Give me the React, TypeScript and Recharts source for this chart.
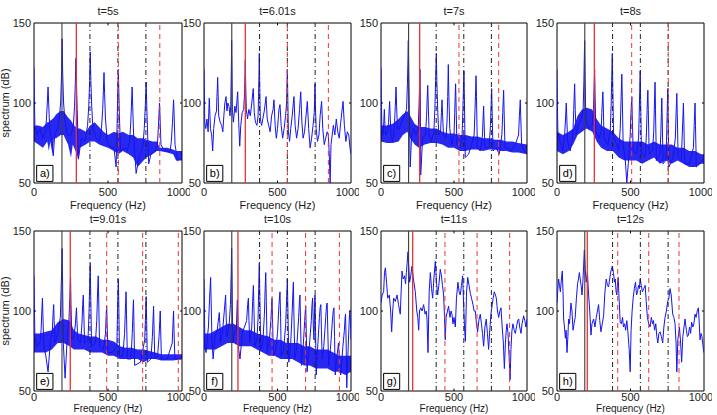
import React from 'react';
import { Area, ComposedChart, Line, ReferenceArea, ReferenceLine, XAxis, YAxis } from 'recharts';

type Pt = [number, number];
type Band = [number, number, number];

const FREQ_TICKS = [0, 500, 1000];
const DB_TICKS = [50, 100, 150];
const TITLES = ['t=5s', 't=6.01s', 't=7s', 't=8s', 't=9.01s', 't=10s', 't=11s', 't=12s'];
const TAGS = ['a)', 'b)', 'c)', 'd)', 'e)', 'f)', 'g)', 'h)'];

// shaft harmonics (black): fundamental solid, the rest dash-dot
const SHAFT_F0 = 189;
const SHAFT_HARMONICS = [378, 567, 756];
// second tone (red): fundamental solid, harmonics dashed
const TONE_F0 = [286, 281, 265, 254, 245, 231, 217, 206];
const TONE_HARMONICS = [
  [570, 850],
  [567, 846],
  [534, 806],
  [508, 757],
  [491, 734, 975],
  [463, 691, 921],
  [438, 658, 881],
  [413, 624, 830],
];

// spectra, [Hz, dB]
const SPEC_A: Pt[] = [
  [0, 122], [3, 100], [6, 86], [20, 80], [40, 84], [60, 78], [78, 82], [84, 90], [90, 100], [95, 110],
  [100, 98], [106, 84], [120, 76], [130, 67], [140, 80], [160, 84], [172, 92], [180, 100], [186, 118],
  [190, 140], [194, 118], [200, 100], [208, 90], [225, 80], [250, 80], [266, 86], [274, 98], [279, 112],
  [283, 128], [287, 112], [292, 96], [300, 65], [320, 78], [345, 76], [362, 86], [370, 98], [376, 114],
  [380, 132], [384, 114], [390, 98], [398, 84], [420, 78], [440, 76], [456, 84], [464, 96], [469, 108],
  [473, 119], [477, 106], [483, 90], [495, 76], [520, 72], [540, 72], [555, 60], [560, 80], [564, 98],
  [567, 110], [570, 121], [573, 108], [577, 92], [585, 70], [610, 72], [630, 70], [646, 76], [654, 88],
  [659, 100], [663, 110], [667, 98], [673, 80], [690, 56], [710, 66], [735, 72], [745, 84], [752, 98],
  [758, 113], [762, 98], [768, 80], [775, 62], [790, 68], [820, 70], [834, 74], [841, 86], [845, 94],
  [848, 100], [852, 90], [858, 74], [880, 70], [920, 70], [928, 76], [936, 88], [940, 96], [943, 102],
  [947, 92], [953, 74], [970, 64], [1000, 66],
];
const BAND_A: Band[] = [
  [0, 76, 86], [30, 74, 86], [60, 72, 85], [90, 76, 88], [100, 70, 88], [110, 76, 89], [125, 68, 90],
  [135, 78, 91], [150, 78, 93], [180, 80, 95], [200, 80, 95], [230, 74, 91], [250, 66, 89], [262, 74, 87],
  [290, 68, 84], [300, 64, 84], [310, 72, 84], [350, 74, 82], [380, 76, 86], [410, 76, 88], [440, 74, 85],
  [470, 73, 82], [500, 72, 80], [540, 70, 82], [570, 68, 81], [600, 70, 82], [640, 68, 80], [670, 66, 80],
  [700, 60, 78], [740, 64, 78], [760, 66, 77], [800, 68, 76], [830, 70, 76], [850, 70, 72], [900, 69, 72],
  [940, 68, 71], [960, 64, 70], [1000, 64, 70],
];

const SPEC_B: Pt[] = [
  [0, 121], [5, 88], [12, 84], [20, 90], [28, 82], [36, 103], [44, 84], [52, 80], [59, 70], [66, 84],
  [75, 92], [85, 95], [88, 104], [91, 110], [93, 116], [96, 106], [100, 92], [110, 88], [120, 86],
  [128, 82], [135, 92], [142, 100], [150, 104], [156, 95], [162, 100], [170, 98], [177, 92], [182, 98],
  [186, 122], [188, 139], [190, 122], [193, 96], [200, 88], [210, 98], [218, 94], [229, 107], [236, 88],
  [243, 73], [250, 86], [260, 94], [270, 96], [276, 106], [279, 118], [281, 127], [284, 110], [288, 96],
  [296, 90], [305, 96], [315, 92], [325, 100], [335, 109], [342, 94], [350, 88], [360, 86], [368, 92],
  [371, 104], [374, 118], [376, 131], [379, 112], [383, 90], [392, 86], [400, 90], [410, 95], [422, 104],
  [430, 90], [440, 86], [450, 82], [460, 92], [470, 96], [476, 102], [484, 86], [492, 78], [500, 84],
  [510, 96], [517, 99], [525, 86], [535, 78], [545, 84], [555, 92], [562, 100], [565, 112], [567, 121],
  [570, 104], [574, 82], [582, 76], [590, 84], [600, 92], [612, 104], [620, 86], [630, 78], [640, 84],
  [650, 96], [658, 107], [666, 88], [674, 78], [684, 82], [694, 92], [703, 101], [712, 84], [722, 72],
  [732, 78], [742, 86], [750, 94], [753, 104], [755, 112], [758, 98], [763, 84], [772, 76], [782, 80],
  [790, 92], [800, 101], [808, 84], [818, 74], [828, 78], [838, 82], [846, 80], [852, 68], [858, 50],
  [864, 74], [872, 80], [880, 86], [890, 80], [900, 90], [910, 82], [920, 78], [930, 88], [946, 101],
  [955, 86], [965, 76], [975, 82], [985, 80], [993, 72], [1000, 68],
];

const SPEC_C: Pt[] = [
  [0, 122], [3, 100], [6, 84], [15, 80], [19, 88], [23, 96], [27, 86], [32, 80], [45, 82], [52, 88],
  [56, 96], [59, 101], [63, 92], [68, 80], [80, 76], [92, 86], [98, 98], [103, 110], [107, 98], [113, 84],
  [125, 84], [140, 88], [160, 92], [175, 96], [181, 112], [184, 124], [187, 139], [190, 120], [194, 96],
  [200, 60], [210, 80], [225, 84], [240, 80], [255, 84], [261, 100], [264, 110], [267, 121], [270, 100],
  [272, 55], [285, 78], [305, 80], [312, 92], [316, 102], [320, 111], [324, 98], [330, 80], [345, 76],
  [362, 82], [369, 96], [374, 114], [379, 131], [383, 112], [389, 94], [396, 80], [408, 82], [414, 94],
  [418, 102], [422, 92], [428, 80], [445, 78], [452, 88], [457, 104], [461, 124], [465, 104], [471, 84],
  [485, 74], [500, 80], [505, 94], [508, 104], [511, 112], [514, 100], [520, 74], [540, 72], [555, 78],
  [561, 96], [565, 110], [568, 120], [571, 104], [577, 66], [600, 68], [620, 74], [638, 80], [644, 96],
  [648, 108], [651, 117], [654, 104], [660, 72], [680, 70], [695, 80], [700, 92], [703, 98], [706, 88],
  [712, 72], [740, 72], [750, 86], [754, 98], [758, 109], [761, 96], [767, 70], [790, 72], [810, 68],
  [828, 80], [834, 94], [840, 108], [843, 96], [849, 72], [870, 72], [890, 70], [920, 74], [942, 80],
  [948, 92], [954, 102], [957, 92], [963, 74], [980, 70], [1000, 70],
];
const BAND_C: Band[] = [
  [0, 76, 86], [40, 75, 86], [80, 75, 87], [120, 76, 90], [150, 80, 93], [180, 82, 95], [200, 78, 92],
  [230, 74, 87], [260, 72, 85], [300, 74, 85], [340, 75, 84], [380, 75, 84], [420, 74, 82], [460, 72, 81],
  [500, 72, 81], [540, 70, 80], [580, 70, 80], [620, 71, 79], [660, 71, 79], [700, 70, 78], [740, 71, 78],
  [780, 71, 77], [820, 70, 77], [860, 70, 76], [900, 69, 76], [940, 69, 75], [1000, 68, 74],
];

const SPEC_D: Pt[] = [
  [0, 121], [3, 98], [6, 82], [20, 76], [40, 70], [52, 80], [58, 90], [63, 100], [67, 90], [72, 76],
  [90, 70], [108, 80], [114, 96], [120, 112], [124, 96], [130, 80], [145, 86], [165, 90], [178, 96],
  [183, 114], [188, 139], [191, 118], [196, 90], [215, 84], [240, 86], [248, 96], [252, 108], [256, 121],
  [259, 106], [264, 82], [285, 78], [300, 82], [305, 94], [309, 102], [312, 107], [315, 98], [320, 78],
  [345, 74], [362, 82], [368, 98], [372, 114], [376, 131], [379, 112], [385, 80], [405, 74], [420, 70],
  [430, 84], [436, 102], [441, 118], [444, 104], [450, 74], [465, 64], [475, 50], [485, 62], [498, 80],
  [503, 94], [509, 104], [512, 92], [518, 70], [540, 68], [555, 78], [561, 100], [566, 120], [569, 102],
  [575, 68], [600, 66], [608, 80], [613, 96], [618, 108], [621, 96], [627, 68], [650, 70], [658, 82],
  [663, 100], [667, 113], [670, 96], [676, 64], [700, 68], [706, 80], [710, 94], [713, 103], [716, 90],
  [721, 62], [740, 64], [746, 80], [750, 96], [753, 109], [756, 94], [761, 60], [790, 66], [805, 78],
  [811, 96], [815, 106], [818, 94], [824, 66], [845, 64], [852, 80], [857, 92], [860, 100], [863, 88],
  [868, 62], [900, 62], [928, 72], [934, 88], [939, 100], [942, 86], [948, 60], [970, 62], [1000, 66],
];
const BAND_D: Band[] = [
  [0, 70, 82], [40, 68, 80], [80, 70, 82], [110, 74, 84], [140, 80, 92], [170, 82, 96], [200, 84, 97],
  [240, 82, 96], [270, 76, 90], [300, 72, 86], [340, 70, 84], [380, 70, 82], [420, 66, 78], [460, 64, 76],
  [500, 64, 76], [540, 64, 76], [580, 62, 76], [620, 64, 74], [660, 66, 76], [700, 62, 74], [740, 64, 74],
  [780, 62, 74], [820, 64, 72], [860, 62, 72], [900, 60, 70], [940, 60, 70], [980, 62, 68], [1000, 62, 68],
];

const SPEC_E: Pt[] = [
  [0, 122], [3, 100], [6, 84], [20, 78], [40, 80], [48, 88], [53, 100], [57, 108], [60, 98], [66, 78],
  [80, 72], [95, 62], [110, 80], [124, 88], [129, 98], [133, 104], [136, 94], [142, 80], [165, 88],
  [178, 96], [184, 116], [187, 126], [190, 139], [193, 120], [198, 80], [210, 58], [225, 84], [236, 94],
  [242, 108], [247, 121], [250, 104], [256, 82], [270, 84], [280, 92], [284, 98], [287, 102], [290, 94],
  [296, 82], [315, 80], [324, 92], [329, 104], [333, 110], [336, 100], [342, 80], [365, 82], [372, 100],
  [376, 116], [380, 130], [383, 112], [389, 78], [415, 80], [424, 94], [429, 110], [434, 122], [437, 108],
  [443, 78], [470, 76], [483, 86], [488, 98], [491, 103], [494, 92], [500, 74], [530, 74], [560, 78],
  [564, 98], [567, 110], [570, 120], [573, 104], [578, 72], [600, 72], [612, 86], [618, 102], [622, 112],
  [625, 98], [631, 70], [655, 70], [664, 86], [669, 100], [672, 107], [675, 94], [680, 66], [720, 68],
  [748, 82], [754, 98], [758, 109], [761, 94], [766, 68], [790, 70], [800, 84], [805, 96], [808, 103],
  [811, 90], [816, 70], [835, 72], [845, 84], [850, 94], [853, 100], [856, 88], [861, 70], [900, 70],
  [934, 80], [940, 94], [943, 100], [946, 88], [952, 70], [1000, 70],
];
const BAND_E: Band[] = [
  [0, 74, 86], [40, 74, 86], [80, 74, 87], [120, 76, 88], [160, 80, 93], [200, 80, 95], [240, 78, 94],
  [270, 76, 88], [300, 76, 86], [340, 76, 85], [380, 74, 84], [420, 74, 84], [460, 74, 82], [500, 72, 82],
  [540, 72, 81], [580, 70, 78], [620, 70, 77], [660, 70, 77], [700, 70, 76], [740, 68, 76], [780, 70, 75],
  [820, 70, 74], [860, 69, 73], [900, 69, 73], [940, 69, 73], [1000, 70, 73],
];

const SPEC_F: Pt[] = [
  [0, 120], [6, 78], [14, 74], [30, 90], [38, 108], [45, 121], [50, 100], [55, 80], [62, 70], [75, 84],
  [90, 88], [100, 96], [104, 99], [108, 92], [112, 80], [125, 86], [138, 100], [147, 110], [151, 96],
  [155, 84], [170, 90], [180, 104], [185, 124], [188, 139], [191, 118], [196, 80], [205, 86], [220, 88],
  [224, 100], [227, 107], [231, 92], [236, 76], [245, 70], [260, 86], [275, 90], [290, 94], [297, 104],
  [302, 108], [306, 94], [312, 80], [325, 90], [331, 106], [336, 116], [340, 100], [346, 78], [360, 82],
  [368, 96], [372, 114], [376, 130], [380, 108], [386, 76], [400, 80], [411, 98], [416, 114], [420, 124],
  [424, 106], [430, 74], [445, 82], [455, 94], [459, 102], [463, 108], [467, 92], [472, 72], [485, 74],
  [500, 86], [510, 104], [517, 112], [521, 96], [526, 72], [540, 74], [556, 92], [563, 110], [567, 120],
  [571, 100], [577, 68], [590, 80], [600, 100], [605, 112], [608, 118], [612, 96], [618, 70], [630, 76],
  [644, 96], [649, 106], [653, 110], [657, 92], [663, 66], [675, 78], [685, 94], [689, 100], [692, 103],
  [696, 86], [701, 62], [715, 76], [730, 94], [735, 104], [739, 108], [744, 90], [748, 82], [752, 100],
  [755, 110], [758, 94], [763, 60], [775, 80], [785, 96], [790, 102], [795, 104], [799, 88], [804, 70],
  [815, 78], [828, 96], [834, 104], [838, 105], [842, 88], [848, 66], [860, 76], [872, 92], [879, 100],
  [884, 102], [888, 84], [893, 60], [905, 72], [915, 80], [921, 70], [930, 60], [945, 78], [955, 88],
  [960, 96], [963, 98], [967, 80], [971, 52], [978, 70], [986, 90], [990, 98], [993, 100], [997, 92],
  [1000, 82],
];
const BAND_F: Band[] = [
  [0, 76, 86], [40, 76, 86], [80, 76, 88], [120, 78, 90], [160, 80, 92], [200, 80, 92], [240, 78, 90],
  [280, 78, 88], [320, 78, 88], [360, 76, 86], [400, 74, 85], [440, 72, 84], [480, 72, 82], [520, 70, 82],
  [560, 70, 80], [600, 70, 80], [640, 68, 80], [680, 66, 78], [720, 66, 78], [760, 64, 76], [800, 64, 76],
  [840, 64, 76], [880, 62, 74], [920, 62, 72], [960, 60, 72], [1000, 62, 72],
];

const SPEC_G: Pt[] = [
  [0, 105], [8, 110], [18, 112], [24, 124], [30, 127], [38, 118], [46, 108], [57, 110], [66, 100], [73, 87],
  [80, 100], [87, 108], [98, 106], [110, 110], [120, 104], [132, 98], [138, 112], [144, 125], [152, 120],
  [162, 122], [168, 117], [174, 124], [185, 137], [191, 126], [196, 118], [204, 122], [212, 128], [222, 120],
  [235, 112], [245, 100], [252, 96], [258, 88], [264, 100], [272, 102], [282, 100], [292, 104], [302, 98],
  [310, 100], [315, 95], [322, 74], [330, 112], [338, 124], [346, 114], [354, 108], [362, 120], [372, 131],
  [380, 118], [388, 110], [396, 116], [406, 126], [414, 122], [421, 116], [429, 110], [435, 96], [440, 82],
  [446, 96], [455, 100], [463, 103], [472, 96], [480, 100], [486, 98], [493, 92], [500, 96], [509, 90],
  [517, 108], [527, 118], [535, 112], [543, 110], [551, 116], [559, 122], [566, 104], [572, 90], [578, 81],
  [586, 112], [594, 121], [603, 116], [612, 111], [620, 108], [630, 104], [638, 100], [646, 100], [654, 92],
  [662, 87], [670, 94], [680, 98], [688, 92], [695, 86], [703, 78], [712, 90], [721, 95], [729, 86],
  [737, 76], [745, 88], [753, 98], [762, 104], [768, 108], [776, 112], [784, 110], [790, 108], [798, 100],
  [806, 96], [814, 100], [822, 102], [830, 90], [838, 80], [845, 64], [852, 80], [858, 88], [863, 92],
  [870, 86], [878, 70], [884, 57], [890, 76], [897, 88], [904, 92], [912, 88], [920, 86], [928, 90],
  [936, 94], [943, 95], [950, 90], [959, 86], [966, 92], [977, 97], [985, 94], [993, 90], [1000, 95],
];

const SPEC_H: Pt[] = [
  [0, 105], [6, 114], [11, 120], [17, 116], [23, 112], [30, 120], [36, 125], [41, 112], [45, 95], [51, 90],
  [57, 83], [62, 88], [68, 74], [74, 84], [79, 95], [85, 92], [95, 105], [102, 100], [109, 88], [116, 92],
  [124, 96], [132, 108], [140, 117], [146, 120], [152, 124], [158, 120], [164, 116], [170, 110], [176, 118],
  [181, 128], [186, 138], [192, 126], [199, 118], [207, 124], [215, 110], [223, 100], [231, 85], [238, 92],
  [249, 95], [258, 90], [267, 96], [275, 100], [283, 104], [291, 94], [299, 87], [308, 92], [317, 97],
  [326, 112], [335, 120], [343, 116], [351, 115], [358, 120], [367, 125], [376, 128], [384, 124], [391, 118],
  [396, 120], [402, 112], [407, 110], [411, 116], [416, 121], [422, 108], [430, 93], [438, 92], [446, 96],
  [452, 90], [460, 92], [467, 88], [475, 94], [483, 86], [491, 76], [498, 62], [504, 88], [511, 100],
  [518, 108], [526, 114], [534, 118], [541, 110], [548, 112], [554, 116], [560, 114], [566, 120], [573, 116],
  [581, 112], [590, 114], [600, 116], [607, 106], [615, 96], [624, 92], [633, 90], [642, 96], [650, 92],
  [656, 94], [664, 88], [672, 92], [679, 84], [686, 80], [693, 86], [701, 87], [710, 84], [719, 80],
  [727, 90], [735, 96], [744, 100], [753, 106], [761, 108], [769, 114], [777, 110], [787, 98], [795, 96],
  [803, 92], [810, 80], [815, 62], [822, 82], [833, 90], [841, 80], [848, 68], [856, 84], [864, 90],
  [871, 95], [880, 88], [887, 84], [894, 85], [902, 90], [909, 86], [916, 93], [924, 90], [931, 92],
  [939, 98], [946, 96], [954, 100], [962, 102], [968, 92], [973, 82], [980, 86], [986, 84], [991, 80],
  [996, 76], [1000, 74],
];

const SPECTRA = [SPEC_A, SPEC_B, SPEC_C, SPEC_D, SPEC_E, SPEC_F, SPEC_G, SPEC_H];
const BANDS: (Band[] | null)[] = [BAND_A, null, BAND_C, BAND_D, BAND_E, BAND_F, null, null];

// layout of the 2x4 grid (page px, plot area only)
const COL_X = [34, 204, 381, 557];
const COL_W = [148, 147, 146, 147];
const ROW_Y = [23, 231];
// bottom row is squeezed a little so its axis title still fits the page
const TICK_MARGIN = [5, 2];
const LABEL_OFFSET = [6, 11];
const LABEL_SIZE = [11, 10];
const PLOT_H = 160;
const ML = 34;
const MT = 23;
const MR = 8;
const MB = 32;

const FONT = '"Liberation Sans", Arial, sans-serif';
const BLUE = '#1414f0';
const TEXT = '#1a1a1a';

function Panel({ i }: { i: number }) {
  const col = i % 4;
  const row = Math.floor(i / 4);
  const w = COL_W[col];
  const left = COL_X[col] - ML;
  const top = ROW_Y[row] - MT;
  const width = w + ML + MR;
  const height = PLOT_H + MT + MB;
  const line = SPECTRA[i].map(([f, v]) => ({ f, v }));
  const band = BANDS[i]?.map(([f, lo, hi]) => ({ f, r: [lo, hi] }));
  const tick = { fontSize: 11, fill: TEXT, fontFamily: FONT };

  return (
    <div style={{ position: 'absolute', left, top, width, height }}>
      <div
        style={{
          position: 'absolute',
          left: ML,
          width: w,
          top: MT - 18,
          textAlign: 'center',
          fontSize: 11,
          lineHeight: '13px',
          color: TEXT,
        }}
      >
        {TITLES[i]}
      </div>
      <ComposedChart width={width} height={height} margin={{ top: MT, right: MR, bottom: 0, left: 0 }}>
        <XAxis
          dataKey="f"
          type="number"
          domain={[0, 1000]}
          ticks={FREQ_TICKS}
          allowDataOverflow
          height={MB}
          tickSize={0}
          tickMargin={TICK_MARGIN[row]}
          axisLine={false}
          tick={tick}
          label={{
            value: 'Frequency (Hz)',
            position: 'insideBottom',
            offset: LABEL_OFFSET[row],
            fontSize: LABEL_SIZE[row],
            fill: TEXT,
          }}
        />
        <YAxis
          type="number"
          domain={[50, 150]}
          ticks={DB_TICKS}
          allowDataOverflow
          width={ML}
          tickSize={0}
          tickMargin={3}
          axisLine={false}
          tick={tick}
          label={
            col === 0
              ? { value: 'spectrum (dB)', angle: -90, position: 'insideLeft', offset: 5, fontSize: 11, fill: TEXT, style: { textAnchor: 'middle' } }
              : undefined
          }
        />
        {band && (
          <Area
            data={band}
            dataKey="r"
            type="linear"
            stroke="none"
            fill="#0a0aee"
            fillOpacity={0.88}
            isAnimationActive={false}
          />
        )}
        <Line
          data={line}
          dataKey="v"
          type="linear"
          stroke={BLUE}
          strokeWidth={1}
          dot={false}
          isAnimationActive={false}
        />
        <ReferenceLine x={SHAFT_F0} stroke="#3c3c3c" strokeWidth={1.1} />
        <ReferenceLine x={TONE_F0[i]} stroke="#e83030" strokeWidth={1.3} />
        {SHAFT_HARMONICS.map((f) => (
          <ReferenceLine key={'k' + f} x={f} stroke="#222" strokeDasharray="5 3 1 3" />
        ))}
        {TONE_HARMONICS[i].map((f) => (
          <ReferenceLine key={'r' + f} x={f} stroke="#f03434" strokeDasharray="5 4" />
        ))}
        {/* inner tick marks */}
        <ReferenceLine segment={[{ x: 0, y: 100 }, { x: 14, y: 100 }]} stroke="#000" />
        <ReferenceLine segment={[{ x: 986, y: 100 }, { x: 1000, y: 100 }]} stroke="#000" />
        <ReferenceLine segment={[{ x: 500, y: 50 }, { x: 500, y: 51.5 }]} stroke="#000" />
        <ReferenceLine segment={[{ x: 500, y: 148.5 }, { x: 500, y: 150 }]} stroke="#000" />
        <ReferenceArea x1={0} x2={1000} y1={50} y2={150} fill="none" stroke="#000" strokeWidth={1} />
        <ReferenceArea
          x1={18}
          x2={128}
          y1={51}
          y2={61}
          fill="#fff"
          fillOpacity={1}
          stroke="#000"
          label={{ value: TAGS[i], position: 'center', fontSize: 11, fill: '#000' }}
        />
      </ComposedChart>
    </div>
  );
}

export default function App() {
  return (
    <div
      style={{
        position: 'absolute',
        left: 0,
        top: 0,
        width: 717,
        height: 415,
        background: '#fff',
        fontFamily: FONT,
        overflow: 'hidden',
      }}
    >
      {TITLES.map((_, i) => (
        <Panel key={i} i={i} />
      ))}
    </div>
  );
}
